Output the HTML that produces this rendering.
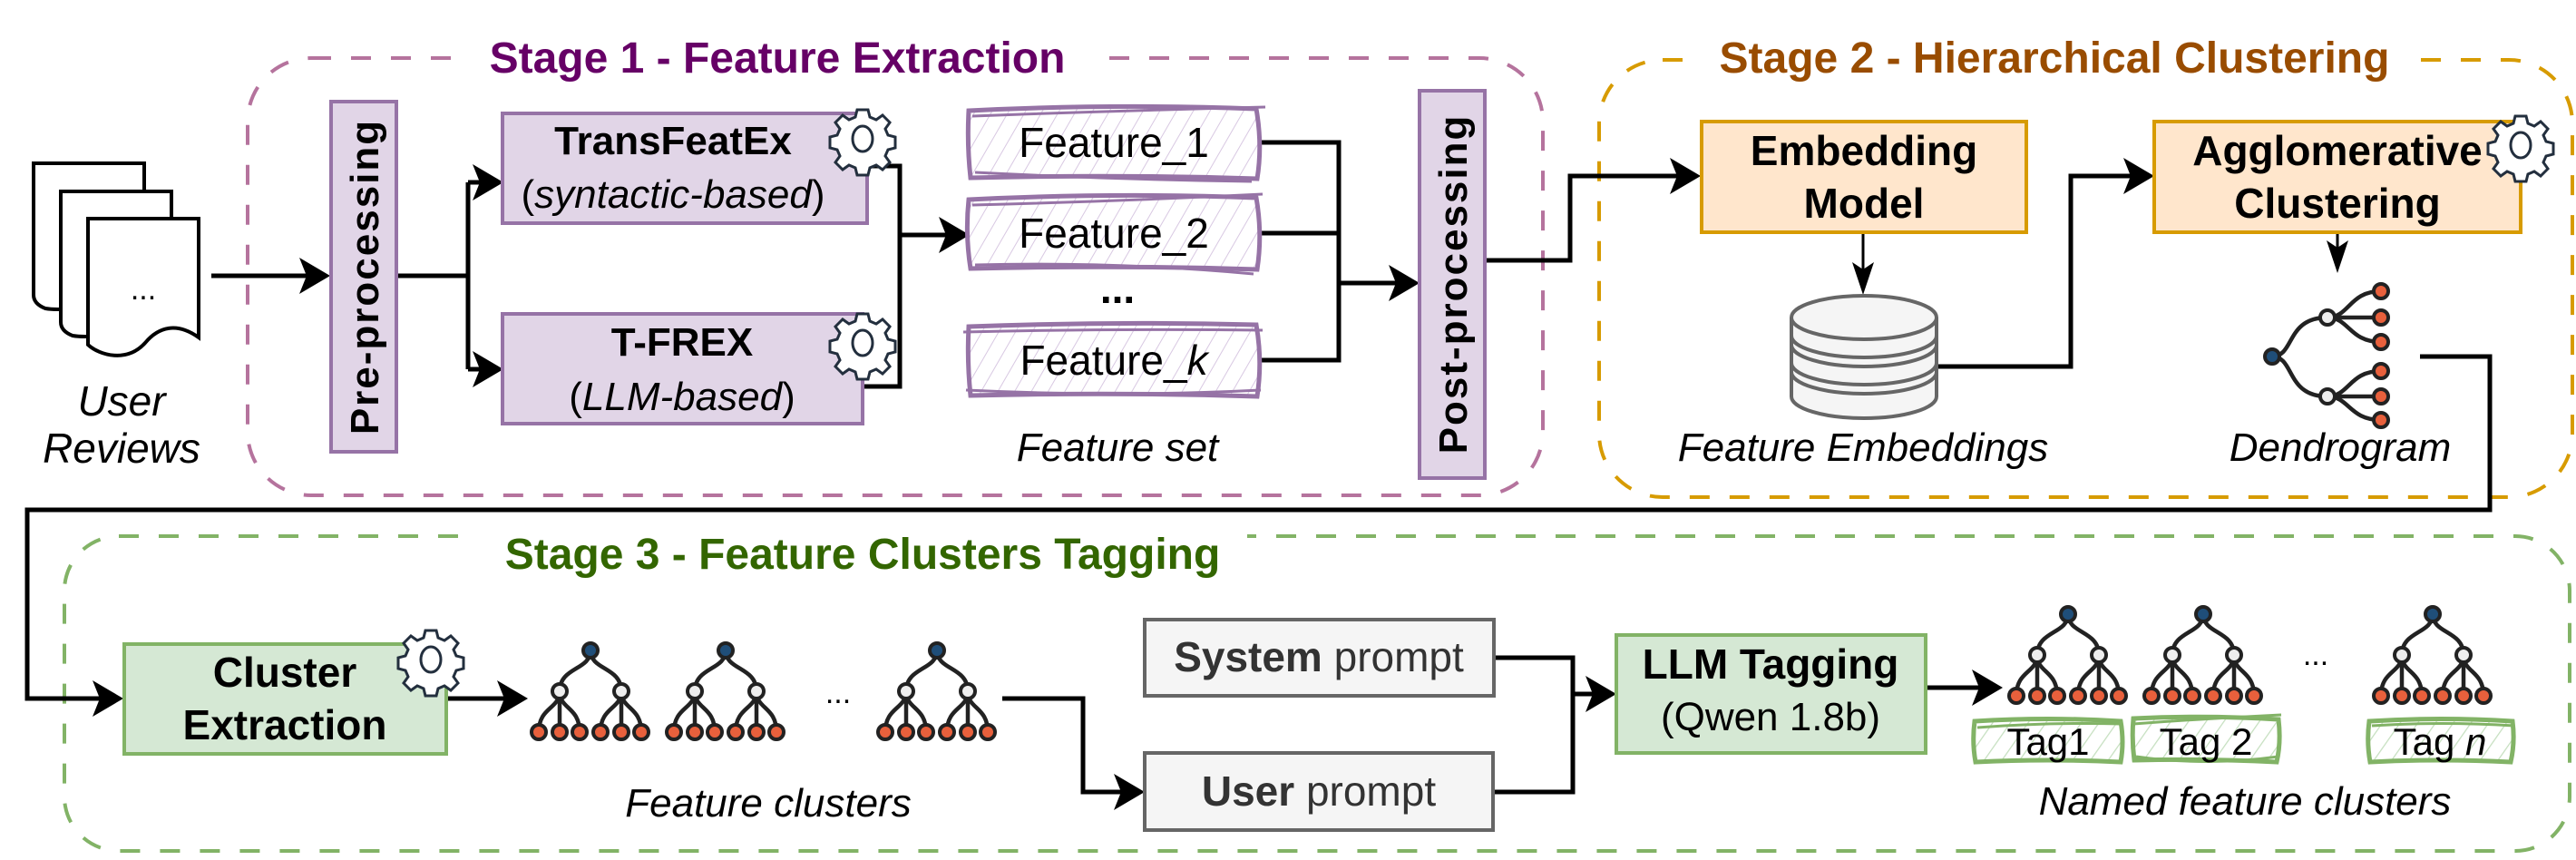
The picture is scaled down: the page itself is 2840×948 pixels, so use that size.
<!DOCTYPE html>
<html><head><meta charset="utf-8"><style>
html,body{margin:0;padding:0;background:#fff;}
svg{display:block;}
text{font-family:"Liberation Sans",Arial,sans-serif;}
</style></head><body>
<svg width="2840" height="948" viewBox="0 0 2840 948" xmlns="http://www.w3.org/2000/svg">
<defs>
<marker id="ar" markerWidth="10" markerHeight="10" refX="9" refY="5" orient="auto" markerUnits="userSpaceOnUse" viewBox="0 0 10 10" style="overflow:visible">
</marker>
<pattern id="hp" width="16" height="16" patternUnits="userSpaceOnUse" patternTransform="rotate(30)">
<line x1="0" y1="0" x2="0" y2="16" stroke="#d8c8e2" stroke-width="2"/>
</pattern>
<pattern id="hg" width="16" height="16" patternUnits="userSpaceOnUse" patternTransform="rotate(35)">
<line x1="0" y1="0" x2="0" y2="16" stroke="#c5dfbf" stroke-width="2.5"/>
</pattern>
<g id="tree">
<g fill="none" stroke="#222" stroke-width="4.5">
<path d="M0,0 C0,22 -34,18 -34,45"/>
<path d="M0,0 C0,22 34,18 34,45"/>
<path d="M-34,45 C-34,65 -57,62 -57,90"/><path d="M-34,45 L-34,90"/><path d="M-34,45 C-34,65 -12,62 -12,90"/>
<path d="M34,45 C34,65 11,62 11,90"/><path d="M34,45 L34,90"/><path d="M34,45 C34,65 56,62 56,90"/>
</g>
<circle cx="0" cy="0" r="8" fill="#1f4e79" stroke="#222" stroke-width="4"/>
<circle cx="-34" cy="45" r="8" fill="#eee" stroke="#222" stroke-width="4"/>
<circle cx="34" cy="45" r="8" fill="#eee" stroke="#222" stroke-width="4"/>
<g fill="#e8603c" stroke="#222" stroke-width="4">
<circle cx="-57" cy="90" r="8"/><circle cx="-34" cy="90" r="8"/><circle cx="-12" cy="90" r="8"/>
<circle cx="11" cy="90" r="8"/><circle cx="34" cy="90" r="8"/><circle cx="56" cy="90" r="8"/>
</g>
</g>
<g id="gear">
<g fill="#fff" stroke="#232f3e" stroke-width="3">
<path d="M-6,-32 h12 l2,8 l7,3 l7,-5 l8,8 l-5,7 l3,7 l8,2 v12 l-8,2 l-3,7 l5,7 l-8,8 l-7,-5 l-7,3 l-2,8 h-12 l-2,-8 l-7,-3 l-7,5 l-8,-8 l5,-7 l-3,-7 l-8,-2 v-12 l8,-2 l3,-7 l-5,-7 l8,-8 l7,5 l7,-3 z"/>
<ellipse cx="0" cy="0" rx="11" ry="14"/>
</g>
</g>
</defs>

<!-- Stage boxes -->
<rect x="273" y="64" width="1428" height="482" rx="70" fill="none" stroke="#b5739d" stroke-width="4" stroke-dasharray="22,22"/>
<rect x="1763" y="66" width="1073" height="482" rx="70" fill="none" stroke="#d79b00" stroke-width="4" stroke-dasharray="22,22"/>
<rect x="71" y="591" width="2762" height="347" rx="60" fill="none" stroke="#82b366" stroke-width="4" stroke-dasharray="22,22"/>
<rect x="505" y="40" width="700" height="50" fill="#fff"/>
<rect x="1860" y="40" width="800" height="50" fill="#fff"/>
<rect x="525" y="580" width="850" height="60" fill="#fff"/>
<text x="857" y="80" font-size="48" font-weight="bold" fill="#660066" text-anchor="middle">Stage 1 - Feature Extraction</text>
<text x="2265" y="80" font-size="48" font-weight="bold" fill="#994c00" text-anchor="middle">Stage 2 - Hierarchical Clustering</text>
<text x="951" y="627" font-size="48" font-weight="bold" fill="#336600" text-anchor="middle">Stage 3 - Feature Clusters Tagging</text>

<!-- Docs -->
<g fill="#fff" stroke="#000" stroke-width="4">
<path d="M37,180 H159 V330 C120,330 80,345 50,340 Q37,335 37,325 Z"/>
<path d="M67,211 H189 V360 C150,360 110,375 80,370 Q67,365 67,355 Z"/>
<path d="M97,241 H219 V372 C195,355 175,360 160,378 C140,400 110,392 97,380 Z"/>
</g>
<text x="158" y="330" font-size="34" text-anchor="middle">...</text>
<text x="134" y="458" font-size="46" font-style="italic" text-anchor="middle">User</text>
<text x="134" y="510" font-size="46" font-style="italic" text-anchor="middle">Reviews</text>

<!-- connectors (black) -->
<g fill="none" stroke="#000" stroke-width="5">
<path d="M233,304 H352"/>
<path d="M437,304 H516 M516,201 V407 M516,201 H544 M516,407 H544"/>
<path d="M956,183 H992 V426 H951 M992,259 H1058"/>
<path d="M1388,157 H1476 V397 H1388 M1388,257 H1476 M1476,312 H1552"/>
<path d="M1637,287 H1731 V194 H1864"/>
<path d="M2136,404 H2283 V194 H2364"/>
<path d="M2668,393 H2745 V562 H30 V770 H125"/>
<path d="M492,770 H571"/>
<path d="M1105,770 H1194 V873 H1252"/>
<path d="M1647,725 H1734 V873 H1647 M1734,765 H1771"/>
<path d="M2123,758 H2197"/>
</g>
<g fill="none" stroke="#000" stroke-width="3">
<path d="M2054,256 V312"/>
<path d="M2577,256 V290"/>
</g>
<g fill="#000">
<path d="M364,304 l-34,-20 l8,20 l-8,20 z"/>
<path d="M555,201 l-34,-20 l8,20 l-8,20 z"/>
<path d="M555,407 l-34,-20 l8,20 l-8,20 z"/>
<path d="M1069,259 l-34,-20 l8,20 l-8,20 z"/>
<path d="M1565,312 l-34,-20 l8,20 l-8,20 z"/>
<path d="M1875,194 l-34,-20 l8,20 l-8,20 z"/>
<path d="M2375,194 l-34,-20 l8,20 l-8,20 z"/>
<path d="M136,770 l-34,-20 l8,20 l-8,20 z"/>
<path d="M582,770 l-34,-20 l8,20 l-8,20 z"/>
<path d="M1262,873 l-34,-20 l8,20 l-8,20 z"/>
<path d="M1782,765 l-34,-20 l8,20 l-8,20 z"/>
<path d="M2208,758 l-34,-20 l8,20 l-8,20 z"/>
<path d="M2054,325 l-12,-36 l12,8 l12,-8 z"/>
<path d="M2577,301 l-12,-36 l12,8 l12,-8 z"/>
</g>

<!-- Pre-processing -->
<rect x="365" y="112" width="72" height="386" fill="#e1d5e7" stroke="#9673a6" stroke-width="4"/>
<text transform="translate(417,305) rotate(-90)" font-size="44" font-weight="bold" text-anchor="middle" letter-spacing="2">Pre-processing</text>

<!-- TransFeatEx / T-FREX -->
<rect x="554" y="125" width="402" height="121" fill="#e1d5e7" stroke="#9673a6" stroke-width="4"/>
<text x="742" y="170" font-size="44" font-weight="bold" text-anchor="middle">TransFeatEx</text>
<text x="742" y="229" font-size="44" font-style="normal" text-anchor="middle">(<tspan font-style="italic">syntactic-based</tspan>)</text>
<use href="#gear" x="951" y="153"/>
<rect x="554" y="346" width="397" height="121" fill="#e1d5e7" stroke="#9673a6" stroke-width="4"/>
<text x="752" y="392" font-size="44" font-weight="bold" text-anchor="middle">T-FREX</text>
<text x="752" y="452" font-size="44" text-anchor="middle">(<tspan font-style="italic">LLM-based</tspan>)</text>
<use href="#gear" x="951" y="378"/>

<!-- Feature boxes -->
<g stroke="#9673a6" stroke-width="5" fill="url(#hp)">
<path d="M1068,122 Q1230,114 1385,120 Q1392,160 1386,197 Q1230,192 1070,196 Q1066,160 1068,122 Z"/>
<path d="M1068,220 Q1230,212 1385,218 Q1392,258 1386,297 Q1230,292 1070,296 Q1064,258 1068,220 Z"/>
<path d="M1068,360 Q1230,354 1385,358 Q1392,398 1386,437 Q1230,432 1070,436 Q1066,398 1068,360 Z"/>
</g>
<g fill="none" stroke="#9673a6" stroke-width="3">
<path d="M1072,128 Q1230,122 1395,118"/><path d="M1075,190 Q1230,198 1380,200"/>
<path d="M1072,226 Q1230,222 1392,214"/><path d="M1075,292 Q1230,288 1382,302"/>
<path d="M1062,366 Q1230,362 1392,364"/><path d="M1065,430 Q1230,438 1390,430"/>
</g>
<text x="1228" y="173" font-size="46" text-anchor="middle">Feature_1</text>
<text x="1228" y="273" font-size="46" text-anchor="middle">Feature_2</text>
<text x="1228" y="413" font-size="46" text-anchor="middle">Feature_<tspan font-style="italic">k</tspan></text>
<text x="1232" y="334" font-size="46" font-weight="bold" text-anchor="middle">...</text>
<text x="1232" y="508" font-size="44" font-style="italic" text-anchor="middle">Feature set</text>

<!-- Post-processing -->
<rect x="1565" y="100" width="72" height="427" fill="#e1d5e7" stroke="#9673a6" stroke-width="4"/>
<text transform="translate(1617,313) rotate(-90)" font-size="44" font-weight="bold" text-anchor="middle" letter-spacing="2">Post-processing</text>

<!-- Stage 2 -->
<rect x="1876" y="134" width="358" height="122" fill="#ffe6cc" stroke="#d79b00" stroke-width="4"/>
<text x="2055" y="182" font-size="46" font-weight="bold" text-anchor="middle">Embedding</text>
<text x="2055" y="240" font-size="46" font-weight="bold" text-anchor="middle">Model</text>
<rect x="2375" y="134" width="404" height="122" fill="#ffe6cc" stroke="#d79b00" stroke-width="4"/>
<text x="2577" y="182" font-size="46" font-weight="bold" text-anchor="middle">Agglomerative</text>
<text x="2577" y="240" font-size="46" font-weight="bold" text-anchor="middle">Clustering</text>
<use href="#gear" x="2779" y="160"/>

<!-- database -->
<g fill="#f5f5f5" stroke="#666" stroke-width="4">
<path d="M1975,350 V437 A80,24 0 0 0 2135,437 V350"/>
<path d="M1975,410 A80,24 0 0 0 2135,410"/>
<path d="M1975,400 A80,24 0 0 0 2135,400"/>
<path d="M1975,380 A80,24 0 0 0 2135,380"/>
<path d="M1975,370 A80,24 0 0 0 2135,370"/>
<ellipse cx="2055" cy="350" rx="80" ry="24"/>
</g>
<text x="2054" y="508" font-size="44" font-style="italic" text-anchor="middle">Feature Embeddings</text>

<!-- Dendrogram horizontal -->
<g fill="none" stroke="#222" stroke-width="4.5">
<path d="M2505,393 C2530,393 2520,350 2566,350"/>
<path d="M2505,393 C2530,393 2520,437 2566,437"/>
<path d="M2566,350 C2590,350 2590,321 2625,321"/><path d="M2566,350 H2625"/><path d="M2566,350 C2590,350 2590,377 2625,377"/>
<path d="M2566,437 C2590,437 2590,409 2625,409"/><path d="M2566,437 H2625"/><path d="M2566,437 C2590,437 2590,463 2625,463"/>
</g>
<circle cx="2505" cy="393" r="8" fill="#1f4e79" stroke="#222" stroke-width="4"/>
<circle cx="2566" cy="350" r="8" fill="#eee" stroke="#222" stroke-width="4"/>
<circle cx="2566" cy="437" r="8" fill="#eee" stroke="#222" stroke-width="4"/>
<g fill="#e8603c" stroke="#222" stroke-width="4">
<circle cx="2625" cy="321" r="8"/><circle cx="2625" cy="350" r="8"/><circle cx="2625" cy="377" r="8"/>
<circle cx="2625" cy="409" r="8"/><circle cx="2625" cy="437" r="8"/><circle cx="2625" cy="463" r="8"/>
</g>
<text x="2580" y="508" font-size="44" font-style="italic" text-anchor="middle">Dendrogram</text>

<!-- Stage 3 -->
<rect x="137" y="710" width="355" height="121" fill="#d5e8d4" stroke="#82b366" stroke-width="4"/>
<text x="314" y="757" font-size="46" font-weight="bold" text-anchor="middle">Cluster</text>
<text x="314" y="815" font-size="46" font-weight="bold" text-anchor="middle">Extraction</text>
<use href="#gear" x="475" y="727"/>

<use href="#tree" x="651" y="717"/>
<use href="#tree" x="800" y="717"/>
<use href="#tree" x="1033" y="717"/>
<text x="924" y="775" font-size="34" text-anchor="middle">...</text>
<text x="847" y="900" font-size="44" font-style="italic" text-anchor="middle">Feature clusters</text>

<rect x="1262" y="683" width="385" height="84" fill="#f5f5f5" stroke="#666" stroke-width="4"/>
<text x="1454" y="740" font-size="46" fill="#333" text-anchor="middle"><tspan font-weight="bold">System</tspan> prompt</text>
<rect x="1262" y="830" width="384" height="85" fill="#f5f5f5" stroke="#666" stroke-width="4"/>
<text x="1454" y="888" font-size="46" fill="#333" text-anchor="middle"><tspan font-weight="bold">User</tspan> prompt</text>

<rect x="1782" y="700" width="341" height="130" fill="#d5e8d4" stroke="#82b366" stroke-width="4"/>
<text x="1952" y="748" font-size="46" font-weight="bold" text-anchor="middle">LLM Tagging</text>
<text x="1952" y="805" font-size="44" text-anchor="middle">(Qwen 1.8b)</text>

<use href="#tree" x="2280" y="677"/>
<use href="#tree" x="2429" y="677"/>
<use href="#tree" x="2682" y="677"/>
<text x="2553" y="733" font-size="34" text-anchor="middle">...</text>

<g stroke="#82b366" stroke-width="5" fill="url(#hg)">
<path d="M2177,795 Q2258,790 2338,795 Q2342,818 2338,840 Q2258,836 2178,840 Q2174,818 2177,795 Z"/>
<path d="M2352,792 Q2432,788 2512,793 Q2515,818 2510,840 Q2432,836 2353,838 Q2350,815 2352,792 Z"/>
<path d="M2612,795 Q2690,790 2770,795 Q2773,818 2768,840 Q2690,836 2613,840 Q2609,818 2612,795 Z"/>
</g>
<g fill="none" stroke="#82b366" stroke-width="3">
<path d="M2180,802 Q2258,796 2340,798"/><path d="M2352,798 Q2432,792 2515,788"/>
<path d="M2355,834 Q2432,845 2512,834"/><path d="M2615,800 Q2690,795 2772,800"/>
</g>
<text x="2258" y="832" font-size="42" text-anchor="middle">Tag1</text>
<text x="2432" y="832" font-size="42" text-anchor="middle">Tag 2</text>
<text x="2690" y="832" font-size="42" text-anchor="middle">Tag <tspan font-style="italic">n</tspan></text>
<text x="2475" y="898" font-size="44" font-style="italic" text-anchor="middle">Named feature clusters</text>
</svg>
</body></html>
